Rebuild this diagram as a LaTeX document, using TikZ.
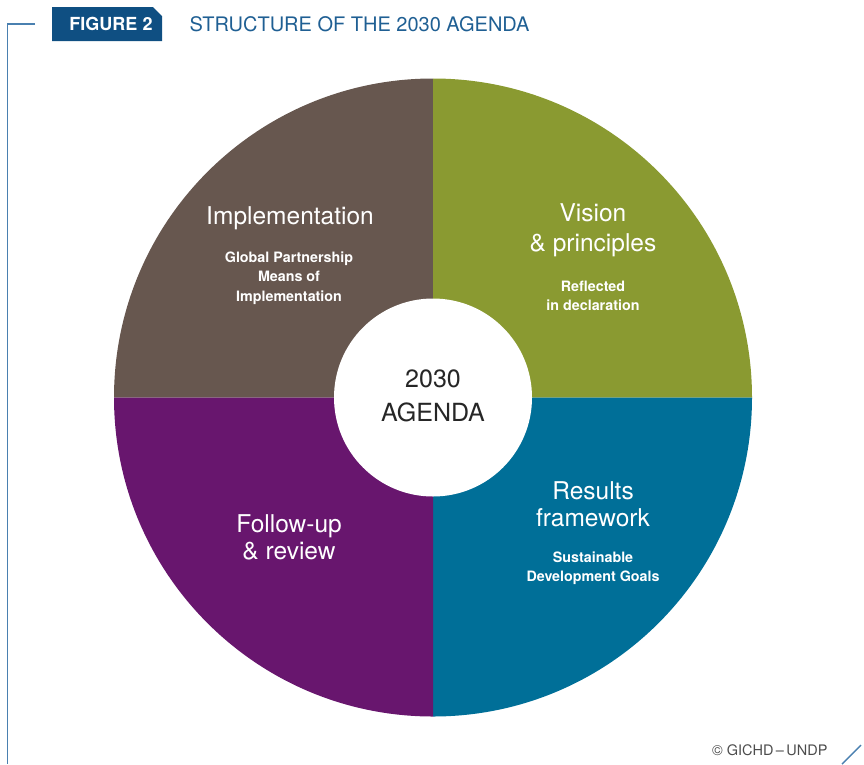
\documentclass[tikz,border=0pt]{standalone}
\usepackage{fontspec}
\setmainfont{TeX Gyre Heros}
\definecolor{cbrown}{HTML}{67574F}
\definecolor{colive}{HTML}{8A9A31}
\definecolor{cteal}{HTML}{006F98}
\definecolor{cpurple}{HTML}{68166E}
\definecolor{cnavy}{HTML}{0F4F82}
\definecolor{ctitle}{HTML}{1F5F93}
\definecolor{cframe}{HTML}{4A80B0}
\begin{document}
\begin{tikzpicture}[x=1pt,y=-1pt,
  head/.style={text=white,font=\fontsize{24.5}{28}\selectfont,align=center},
  sub/.style={text=white,font=\bfseries\fontsize{14.3}{19.5}\selectfont,align=center}]
\useasboundingbox (0,0) rectangle (864,764);
% frame
\draw[cframe,line width=1.8] (35,24) -- (7.5,24) -- (7.5,764);
\draw[cframe,line width=1.4] (842,764) -- (861,745);
% header
\fill[cnavy] (52,7) -- (153,7) -- (162,16) -- (162,41) -- (52,41) -- cycle;
\node[text=white,font=\bfseries\fontsize{18}{20}\selectfont] (fig) at (111,24) {FIGURE 2};
\node[text=ctitle,font=\fontsize{20}{22}\selectfont,anchor=west] (title) at (186,24) {STRUCTURE OF THE 2030 AGENDA};
% circle quadrants (y axis points down: 270 = top)
\coordinate (c) at (433,397.5);
\fill[cbrown] (c) -- (114,397.5) arc[start angle=180,end angle=270,radius=319] -- cycle;
\fill[colive] (c) -- (433,78.5) arc[start angle=270,end angle=360,radius=319] -- cycle;
\fill[cteal] (c) -- (752,397.5) arc[start angle=0,end angle=90,radius=319] -- cycle;
\fill[cpurple] (c) -- (433,716.5) arc[start angle=90,end angle=180,radius=319] -- cycle;
\node[circle,fill=white,minimum size=198,inner sep=0] (hub) at (c) {};
\node[font=\fontsize{25}{34}\selectfont,align=center,text=black!85] (agenda) at (433,396) {2030\\AGENDA};
% labels
\node[head] (impl) at (290,218) {Implementation};
\node[sub] (impls) at (289,278) {Global Partnership\\Means of\\Implementation};
\node[head,font=\fontsize{24.5}{30}\selectfont] (vis) at (593,230) {Vision\\\& principles};
\node[sub] (viss) at (593,296) {Reflected\\in declaration};
\node[head,font=\fontsize{24.5}{27}\selectfont] (res) at (593,504) {Results\\framework};
\node[sub] (ress) at (593,568) {Sustainable\\Development Goals};
\node[head,font=\fontsize{24.5}{27}\selectfont] (fol) at (289,537) {Follow-up\\\& review};
% credit
\node[anchor=east,text=black!70,font=\fontsize{14.5}{16}\selectfont] (cred) at (831,750) {© GICHD\,–\,UNDP};
\end{tikzpicture}
\end{document}
